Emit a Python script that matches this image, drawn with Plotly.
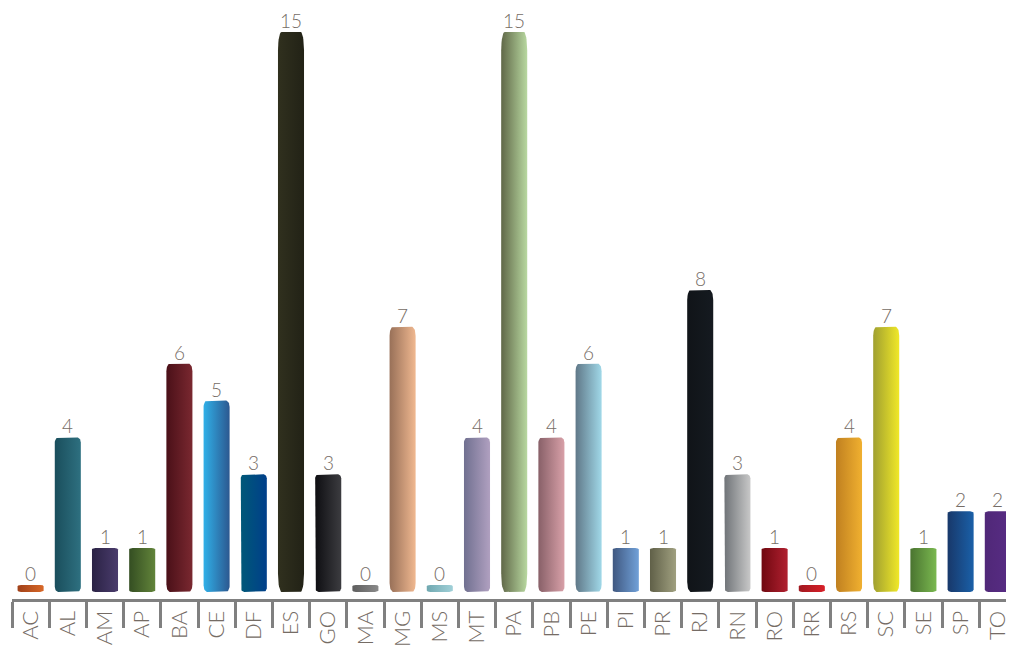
import math
import plotly.graph_objects as go

# ---- data ----
states = ["AC", "AL", "AM", "AP", "BA", "CE", "DF", "ES", "GO", "MA", "MG", "MS", "MT", "PA",
          "PB", "PE", "PI", "PR", "RJ", "RN", "RO", "RR", "RS", "SC", "SE", "SP", "TO"]
counts = [0, 4, 1, 1, 6, 5, 3, 15, 3, 0, 7, 0, 4, 15, 4, 6, 1, 1, 8, 3, 1, 0, 4, 7, 1, 2, 2]

colors_left = ["#a04018", "#1a4e5c", "#2a2244", "#344e22", "#4a1018", "#30b0e8", "#005878",
               "#30301e", "#0e0e12", "#5e5e5e", "#987058", "#70a8b0", "#707090", "#606848",
               "#886068", "#607888", "#405880", "#606048", "#101418", "#707478", "#700810",
               "#a01820", "#c08020", "#a0a030", "#4a7430", "#18386a", "#502878"]
colors_right = ["#d86828", "#2e7080", "#4a3c6c", "#62843a", "#7a2830", "#2c5890", "#003f8a",
                "#222216", "#3c3c40", "#8a8a8a", "#f0b890", "#a0d0d8", "#b0a0c0", "#b8d8a0",
                "#d8a0a8", "#a0d8e8", "#70a0d8", "#a0a080", "#151a20", "#c8c8c8", "#b02030",
                "#d82028", "#f0b030", "#f0e828", "#7ab850", "#1a60a8", "#582c84"]

# ---- layout / style constants ----
W, H = 1010, 647
ML, MR, MT, MB = 12, 0, 0, 47
PX_X = 37.35          # pixels per category
PX_Y = 36.93          # pixels per unit
BASE = -0.19          # bars start slightly below zero
BAR_W = 0.70
RX_PX = 3.5
Y_MIN, Y_MAX = -0.382, 15.865
X_MIN = -0.5
X_MAX = X_MIN + (W - ML - MR) / PX_X
TEXT_COLOR = "#756c65"
AXIS_COLOR = "#808080"
FONT = "Lato"

fig = go.Figure()

N = 10
for i, (v, cl, cr) in enumerate(zip(counts, colors_left, colors_right)):
    x0, x1 = i - BAR_W / 2, i + BAR_W / 2
    y0, y1 = BASE, v
    h_px = (y1 - y0) * PX_Y
    ry_px = min(max(h_px / 30.0, 1.5), h_px / 2)
    rx = RX_PX / PX_X
    ry = ry_px / PX_Y
    xs, ys = [], []
    corners = [((x1 - rx, y1 - ry), 0), ((x0 + rx, y1 - ry), 90),
               ((x0 + rx, y0 + ry), 180), ((x1 - rx, y0 + ry), 270)]
    for (cx, cy), a0 in corners:
        for k in range(N + 1):
            t = math.radians(a0 + 90.0 * k / N)
            xs.append(cx + rx * math.cos(t))
            ys.append(cy + ry * math.sin(t))
    xs.append(xs[0])
    ys.append(ys[0])
    fig.add_trace(go.Scatter(
        x=xs, y=ys, mode="lines", line=dict(width=0), fill="toself",
        fillgradient=dict(type="horizontal", colorscale=[[0, cl], [1, cr]]),
        hoverinfo="skip", showlegend=False, name=states[i]))

for i, v in enumerate(counts):
    fig.add_annotation(x=i, y=v, text=str(v), showarrow=False, yanchor="bottom",
                       yshift=-2,
                       font=dict(family=FONT, size=19, color=TEXT_COLOR, weight=300))

fig.update_layout(
    width=W, height=H,
    margin=dict(l=ML, r=MR, t=MT, b=MB),
    paper_bgcolor="white", plot_bgcolor="white",
    showlegend=False,
    xaxis=dict(
        range=[X_MIN, X_MAX], tickmode="array", tickvals=list(range(len(states))),
        ticktext=states, tickangle=-90, ticks="", showgrid=False, zeroline=False,
        showline=True, linecolor=AXIS_COLOR, linewidth=3,
        ticklabeloverflow="allow",
        tickfont=dict(family=FONT, size=22, color=TEXT_COLOR, weight=300),
        minor=dict(tick0=0.5, dtick=1, ticks="outside", ticklen=26, tickwidth=3,
                   tickcolor=AXIS_COLOR, showgrid=False),
        fixedrange=True,
    ),
    yaxis=dict(range=[Y_MIN, Y_MAX], visible=False, showgrid=False, zeroline=False,
               fixedrange=True),
)

fig.write_html("out.html", config={"displayModeBar": False},
               post_script="document.body.style.margin='0';document.body.style.overflow='hidden';")
